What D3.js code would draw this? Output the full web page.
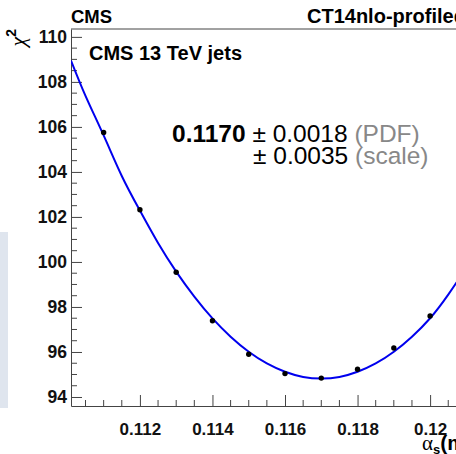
<!DOCTYPE html>
<html><head><meta charset="utf-8">
<script src="https://cdn.jsdelivr.net/npm/d3@7"></script>
<style>
html,body{margin:0;padding:0;background:#fff;}
svg{display:block;}
text{font-family:"Liberation Sans",Arial,Helvetica,sans-serif;}
</style></head>
<body>
<script>
// ---- data ----
const alphaS = [0.111,0.112,0.113,0.114,0.115,0.116,0.117,0.118,0.119,0.120];
const chi2 = [105.75,102.32,99.54,97.39,95.90,95.04,94.84,95.23,96.18,97.60];
const fitX = [0.1101,0.1105,0.111,0.1115,0.112,0.1125,0.113,0.1135,0.114,0.1145,0.115,0.1155,0.116,0.1165,0.117,0.1175,0.118,0.1185,0.119,0.1195,0.120,0.1205,0.121,0.1211];
const fitY = [108.95,107.38,105.62,103.82,102.28,100.84,99.57,98.46,97.49,96.68,96.01,95.49,95.12,94.89,94.82,94.89,95.12,95.49,96.01,96.68,97.50,98.55,99.75,100.0];
const xTicks = [0.112,0.114,0.116,0.118,0.12];
const xTickLabels = ["0.112","0.114","0.116","0.118","0.12"];
const yTicks = [94,96,98,100,102,104,106,108,110];

const W=456,H=454;
const L=71,T=29,B=406,R=470;
const svg=d3.select("body").append("svg").attr("width",W).attr("height",H);

// side panel
svg.append("rect").attr("x",0).attr("y",232).attr("width",8).attr("height",176).attr("fill","#dfe5ee");

const x=d3.scaleLinear().domain([0.1101,0.1211]).range([L,R]);
const y=d3.scaleLinear().domain([93.6,110.35]).range([B,T]);

// frame
const g=svg.append("g");
g.append("line").attr("x1",L).attr("x2",R).attr("y1",T).attr("y2",T).attr("stroke","#444").attr("stroke-width",1);
g.append("line").attr("x1",R).attr("x2",R).attr("y1",T).attr("y2",B).attr("stroke","#444");

// x axis
const xMinor=d3.range(0.1105,0.12101,0.0005).filter(v=>!xTicks.some(t=>Math.abs(t-v)<1e-7));
const xAxis=d3.axisBottom(x).tickValues(xTicks).tickFormat((d,i)=>xTickLabels[i]).tickSizeOuter(0).tickSizeInner(-11).tickPadding(17);
const gx=g.append("g").attr("transform",`translate(0,${B})`).call(xAxis);
gx.select(".domain").attr("stroke","#444");
gx.selectAll(".tick line").attr("stroke","#444");
gx.selectAll("text").attr("font-size",17).attr("font-weight","bold").attr("fill","#111");
gx.selectAll(".minor").data(xMinor).enter().append("line").attr("class","minor")
  .attr("x1",d=>x(d)).attr("x2",d=>x(d)).attr("y1",0).attr("y2",-6).attr("stroke","#444");

// y axis
const yMinor=d3.range(93.5,110.4,0.5).filter(v=>v>y.domain()[0]&&v<y.domain()[1]&&!yTicks.includes(v));
const yAxis=d3.axisLeft(y).tickValues(yTicks).tickFormat(d3.format("d")).tickSizeOuter(0).tickSizeInner(-11).tickPadding(4);
const gy=g.append("g").attr("transform",`translate(${L},0)`).call(yAxis);
gy.select(".domain").attr("stroke","#444");
gy.selectAll(".tick line").attr("stroke","#444");
gy.selectAll("text").attr("font-size",17.5).attr("font-weight","bold").attr("fill","#111");
gy.selectAll(".minor").data(yMinor).enter().append("line").attr("class","minor")
  .attr("x1",0).attr("x2",6).attr("y1",d=>y(d)).attr("y2",d=>y(d)).attr("stroke","#444");

// clip
svg.append("clipPath").attr("id","clip").append("rect").attr("x",L).attr("y",T).attr("width",R-L).attr("height",B-T);

// fit curve
const line=d3.line().x((d,i)=>x(fitX[i])).y(d=>y(d)).curve(d3.curveNatural);
svg.append("path").attr("clip-path","url(#clip)").attr("d",line(fitY)).attr("fill","none").attr("stroke","#0000ee").attr("stroke-width",2);

// points
svg.append("g").selectAll("circle").data(alphaS).enter().append("circle")
  .attr("cx",d=>x(d)).attr("cy",(d,i)=>y(chi2[i])).attr("r",2.7).attr("fill","#000");

// texts
svg.append("text").attr("x",71).attr("y",23).attr("font-size",18.5).attr("font-weight","bold").text("CMS");
svg.append("text").attr("x",307).attr("y",23).attr("font-size",20).attr("font-weight","bold").text("CT14nlo-profiled");
svg.append("text").attr("x",89).attr("y",60).attr("font-size",20).attr("font-weight","bold").text("CMS 13 TeV jets");

const t1=svg.append("text").attr("x",172).attr("y",142).attr("font-size",24.5);
t1.append("tspan").attr("font-weight","bold").text("0.1170");
t1.append("tspan").text(" \u00b1 0.0018 ");
t1.append("tspan").attr("fill","#888").text("(PDF)");
const t2=svg.append("text").attr("x",253).attr("y",164).attr("font-size",24.5);
t2.append("tspan").text("\u00b1 0.0035 ");
t2.append("tspan").attr("fill","#888").text("(scale)");

// axis titles
const yt=svg.append("text").attr("transform","translate(25,29) rotate(-90)").attr("text-anchor","end").attr("font-size",22);
yt.append("tspan").attr("font-family","'Liberation Serif',serif").attr("font-style","italic").text("\u03c7");
yt.append("tspan").attr("font-size",14).attr("dy",-9).attr("font-weight","bold").text("2");

const xt=svg.append("text").attr("x",422).attr("y",450).attr("font-size",21).attr("font-weight","bold");
xt.append("tspan").attr("font-family","'Liberation Serif',serif").attr("font-weight","normal").attr("font-size",21).text("\u03b1");
xt.append("tspan").attr("font-size",13).attr("dy",4).text("s");
xt.append("tspan").attr("dy",-4).text("(m");
xt.append("tspan").attr("font-size",13).attr("dy",4).text("Z");
xt.append("tspan").attr("dy",-4).text(")");
</script>
</body></html>
